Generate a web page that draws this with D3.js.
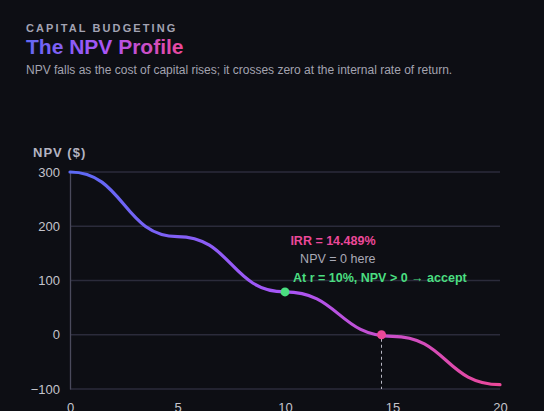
<!DOCTYPE html>
<html>
<head>
<meta charset="utf-8">
<script src="https://cdn.jsdelivr.net/npm/d3@7"></script>
<style>
    html, body { margin: 0; padding: 0; background: #0d0e14; }
    body { width: 544px; height: 411px; overflow: hidden; font-family: "Liberation Sans", Arial, sans-serif; }
    #chart svg { display: block; }
</style>
</head>
<body>
<div id="chart"></div>
<script>
// data
const rates = [0, 5, 10, 15, 20]
const npvValues = [300, 181, 79, -3, -92]
const yTicks = [-100, 0, 100, 200, 300]
const xTicks = [0, 5, 10, 15, 20]
const irrRate = 14.489
const hurdleRate = 10
const hurdleNpv = 79

const W = 544, H = 411

let svg = d3.select("#chart").append("svg")
    .attr("width", W)
    .attr("height", H)

let defs = svg.append("defs")

// title gradient
let tg = defs.append("linearGradient").attr("id", "titleGrad")
tg.append("stop").attr("offset", "0%").attr("stop-color", "#6368f4")
tg.append("stop").attr("offset", "50%").attr("stop-color", "#a855f7")
tg.append("stop").attr("offset", "100%").attr("stop-color", "#ec4899")

// header
svg.append("text")
    .text("CAPITAL BUDGETING")
    .attr("x", 26).attr("y", 32)
    .attr("font-size", "11px")
    .attr("font-weight", "bold")
    .attr("letter-spacing", "2.1px")
    .attr("fill", "#a3a3b3")

svg.append("text")
    .text("The NPV Profile")
    .attr("x", 26).attr("y", 54)
    .attr("font-size", "21px")
    .attr("font-weight", "bold")
    .attr("fill", "url(#titleGrad)")

svg.append("text")
    .text("NPV falls as the cost of capital rises; it crosses zero at the internal rate of return.")
    .attr("x", 26).attr("y", 74)
    .attr("font-size", "12px")
    .attr("fill", "#a3a3b0")

// plot area
let margin = { top: 172, right: 44, bottom: 22, left: 70 }
let width = W - margin.left - margin.right
let height = H - margin.top - margin.bottom

let g = svg.append("g")
    .attr("transform", "translate(" + margin.left + "," + margin.top + ")")

let x = d3.scaleLinear().domain([0, 20]).range([0, width])
let y = d3.scaleLinear().domain([-100, 300]).range([height, 0])

// y-axis label
svg.append("text")
    .text("NPV ($)")
    .attr("x", 33).attr("y", 157)
    .attr("font-size", "13px")
    .attr("font-weight", "bold")
    .attr("letter-spacing", "1px")
    .attr("fill", "#b4b4c2")

// gridlines
g.selectAll(".grid")
    .data(yTicks)
    .enter().append("line")
    .attr("class", "grid")
    .attr("x1", 0).attr("x2", width)
    .attr("y1", d => y(d)).attr("y2", d => y(d))
    .attr("stroke", "#2b2b3b")
    .attr("stroke-width", 1.3)

// axes
let yAxis = g.append("g")
    .call(d3.axisLeft(y).tickValues(yTicks).tickSize(0).tickPadding(10))
yAxis.select(".domain").attr("stroke", "#4a4a5c").attr("stroke-width", 1.3)
yAxis.selectAll("text")
    .attr("font-family", "Liberation Sans, Arial, sans-serif")
    .attr("font-size", "13px")
    .attr("fill", "#c4c4cc")

let xAxis = g.append("g")
    .attr("transform", "translate(0," + height + ")")
    .call(d3.axisBottom(x).tickValues(xTicks).tickSize(0).tickPadding(14))
xAxis.select(".domain").remove()
xAxis.selectAll("text")
    .attr("font-family", "Liberation Sans, Arial, sans-serif")
    .attr("font-size", "13px")
    .attr("fill", "#c4c4cc")

// line gradient
let lg = defs.append("linearGradient")
    .attr("id", "lineGrad")
    .attr("gradientUnits", "userSpaceOnUse")
    .attr("x1", 0).attr("x2", width)
    .attr("y1", 0).attr("y2", 0)
lg.append("stop").attr("offset", "0%").attr("stop-color", "#5b6af5")
lg.append("stop").attr("offset", "50%").attr("stop-color", "#a855f7")
lg.append("stop").attr("offset", "100%").attr("stop-color", "#ec4899")

let line = d3.line()
    .x(d => x(d[0]))
    .y(d => y(d[1]))
    .curve(d3.curveBumpX)

g.append("path")
    .datum(d3.zip(rates, npvValues))
    .attr("d", line)
    .attr("fill", "none")
    .attr("stroke", "url(#lineGrad)")
    .attr("stroke-width", 3.2)
    .attr("stroke-linecap", "round")

// IRR marker
g.append("line")
    .attr("x1", x(irrRate)).attr("x2", x(irrRate))
    .attr("y1", y(0) + 4).attr("y2", height)
    .attr("stroke", "#b8b8c4")
    .attr("stroke-width", 1)
    .attr("stroke-dasharray", "3,3")

g.append("circle")
    .attr("cx", x(irrRate)).attr("cy", y(0))
    .attr("r", 4.5)
    .attr("fill", "#ec4899")

g.append("circle")
    .attr("cx", x(hurdleRate)).attr("cy", y(hurdleNpv))
    .attr("r", 4.5)
    .attr("fill", "#4ade80")

// annotations
g.append("text")
    .text("IRR = " + irrRate + "%")
    .attr("x", x(irrRate) - 6).attr("y", y(0) - 90)
    .attr("text-anchor", "end")
    .attr("font-size", "12.5px")
    .attr("font-weight", "bold")
    .attr("fill", "#ec4899")

g.append("text")
    .text("NPV = 0 here")
    .attr("x", x(irrRate) - 6).attr("y", y(0) - 72)
    .attr("text-anchor", "end")
    .attr("font-size", "12.5px")
    .attr("fill", "#a9a9b6")

g.append("text")
    .text("At r = " + hurdleRate + "%, NPV > 0 \u2192 accept")
    .attr("x", x(hurdleRate) + 8).attr("y", y(hurdleNpv) - 10)
    .attr("font-size", "12.5px")
    .attr("font-weight", "bold")
    .attr("fill", "#4ade80")
</script>
</body>
</html>
